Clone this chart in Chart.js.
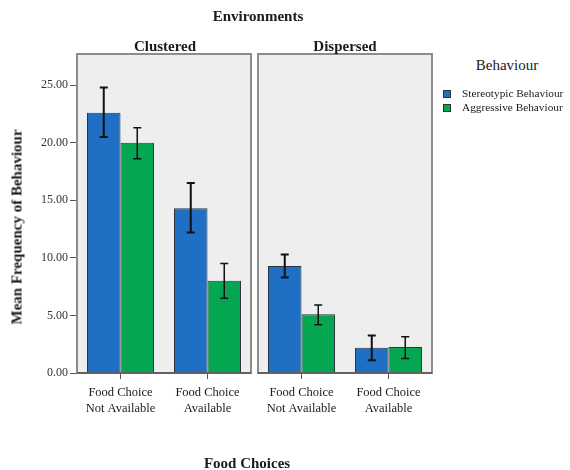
<!DOCTYPE html>
<html>
<head>
<meta charset="utf-8">
<script src="https://cdn.jsdelivr.net/npm/chart.js@4.4.1/dist/chart.umd.min.js"></script>
<style>
  html, body { margin:0; padding:0; background:#ffffff; }
  body { width:570px; height:470px; position:relative; overflow:hidden; font-family:"Liberation Serif", "DejaVu Serif", serif; color:#1a1a1a; }
  .lbl { position:absolute; white-space:nowrap; transform:translate(-50%,-50%); }
  .bold { font-weight:bold; }
  canvas { position:absolute; top:0; }
  .sw { position:absolute; width:8px; height:8px; border:1px solid #333; box-sizing:border-box; }
</style>
</head>
<body>
<canvas id="c1" width="260" height="470" style="left:0;width:260px;height:470px"></canvas>
<canvas id="c2" width="190" height="470" style="left:255px;width:190px;height:470px"></canvas>

<div class="lbl bold" style="left:258px;top:16px;font-size:15px">Environments</div>
<div class="lbl bold" id="t1" style="left:165px;top:46px;font-size:15px"></div>
<div class="lbl bold" id="t2" style="left:345px;top:46px;font-size:15px"></div>
<div class="lbl bold" style="left:247px;top:463px;font-size:15px">Food Choices</div>
<div class="lbl bold" style="left:17px;top:227px;font-size:15px;transform:translate(-50%,-50%) rotate(-90deg)">Mean Frequency of Behaviour</div>
<div class="lbl" style="left:507px;top:65px;font-size:15px">Behaviour</div>
<div class="sw" style="left:443px;top:90px;background:#1f6fc5"></div>
<div class="sw" style="left:443px;top:104px;background:#05a651"></div>
<div class="lbl" id="lg1" style="left:462px;top:93px;font-size:11.3px;transform:translate(0,-50%)"></div>
<div class="lbl" id="lg2" style="left:462px;top:107px;font-size:11.3px;transform:translate(0,-50%)"></div>

<script>
// ---- data ----
const environments = ["Clustered", "Dispersed"];
const foodChoices = [["Food Choice", "Not Available"], ["Food Choice", "Available"]];
const behaviours = ["Stereotypic Behaviour", "Aggressive Behaviour"];

const stereoClustered = [22.6, 14.3];
const stereoClusteredLow = [20.5, 12.2];
const stereoClusteredHigh = [24.8, 16.5];
const aggrClustered = [20.0, 8.0];
const aggrClusteredLow = [18.6, 6.5];
const aggrClusteredHigh = [21.3, 9.5];

const stereoDispersed = [9.3, 2.2];
const stereoDispersedLow = [8.3, 1.1];
const stereoDispersedHigh = [10.3, 3.25];
const aggrDispersed = [5.1, 2.25];
const aggrDispersedLow = [4.2, 1.25];
const aggrDispersedHigh = [5.9, 3.15];

const yMax = 27.7;
const yStep = 5;

// ---- text ----
document.getElementById('t1').textContent = environments[0];
document.getElementById('t2').textContent = environments[1];
document.getElementById('lg1').textContent = behaviours[0];
document.getElementById('lg2').textContent = behaviours[1];

const BLUE = '#1f6fc5', GREEN = '#05a651';
const FONT = "'Liberation Serif', 'DejaVu Serif', serif";

const panelPlugin = {
  id: 'panel',
  beforeDraw(chart) {
    const a = chart.chartArea, ctx = chart.ctx;
    ctx.save();
    ctx.fillStyle = '#eeeeee';
    ctx.fillRect(a.left, a.top, a.right - a.left, a.bottom - a.top);
    ctx.restore();
  },
  afterDatasetsDraw(chart) {
    const a = chart.chartArea, ctx = chart.ctx, y = chart.scales.y;
    ctx.save();
    chart.data.datasets.forEach((ds, di) => {
      const meta = chart.getDatasetMeta(di);
      meta.data.forEach((bar, i) => {
        const lo = y.getPixelForValue(ds.errLow[i]);
        const hi = y.getPixelForValue(ds.errHigh[i]);
        ctx.strokeStyle = '#111';
        ctx.lineWidth = di === 0 ? 2 : 1.5;
        ctx.beginPath();
        ctx.moveTo(bar.x, lo); ctx.lineTo(bar.x, hi);
        ctx.moveTo(bar.x - 4, lo); ctx.lineTo(bar.x + 4, lo);
        ctx.moveTo(bar.x - 4, hi); ctx.lineTo(bar.x + 4, hi);
        ctx.stroke();
      });
    });
    ctx.strokeStyle = '#8c8c8c';
    ctx.lineWidth = 2;
    ctx.strokeRect(a.left, a.top, a.right - a.left, a.bottom - a.top);
    ctx.strokeStyle = '#555';
    ctx.lineWidth = 1.5;
    ctx.beginPath();
    ctx.moveTo(a.left, a.bottom); ctx.lineTo(a.right, a.bottom);
    ctx.stroke();
    ctx.restore();
  }
};

function makeChart(id, sMean, sLo, sHi, aMean, aLo, aHi, showY, pad) {
  return new Chart(document.getElementById(id), {
    type: 'bar',
    data: {
      labels: foodChoices,
      datasets: [
        { label: behaviours[0], data: sMean, errLow: sLo, errHigh: sHi,
          backgroundColor: BLUE, borderColor: '#2b3540', borderWidth: 1,
          barPercentage: 1.0, categoryPercentage: 0.77 },
        { label: behaviours[1], data: aMean, errLow: aLo, errHigh: aHi,
          backgroundColor: GREEN, borderColor: '#2b3540', borderWidth: 1,
          barPercentage: 1.0, categoryPercentage: 0.77 }
      ]
    },
    options: {
      responsive: false,
      animation: false,
      events: [],
      layout: { padding: pad },
      plugins: { legend: { display: false }, title: { display: false }, tooltip: { enabled: false } },
      scales: {
        x: {
          grid: { display: true, offset: false, drawOnChartArea: false, drawTicks: true, tickLength: 6, color: '#555', lineWidth: 1 },
          border: { display: false },
          ticks: { color: '#1a1a1a', padding: 6, maxRotation: 0, autoSkip: false,
                   font: { family: FONT, size: 12.5, lineHeight: 1.28 } },
          afterFit(s) { s.height = 470 - 373 - pad.bottom; }
        },
        y: {
          display: showY,
          min: 0, max: yMax,
          grid: { display: true, drawOnChartArea: false, drawTicks: true, tickLength: 7, color: '#555' },
          border: { display: false },
          ticks: { stepSize: yStep, includeBounds: false, padding: 2, color: '#333',
                   font: { family: FONT, size: 12 },
                   callback: v => Number(v).toFixed(2) },
          afterFit(s) { s.width = showY ? 77 - pad.left : 0; }
        }
      }
    },
    plugins: [panelPlugin]
  });
}

makeChart('c1', stereoClustered, stereoClusteredLow, stereoClusteredHigh,
          aggrClustered, aggrClusteredLow, aggrClusteredHigh, true,
          { left: 0, right: 9, top: 54, bottom: 0 });
makeChart('c2', stereoDispersed, stereoDispersedLow, stereoDispersedHigh,
          aggrDispersed, aggrDispersedLow, aggrDispersedHigh, false,
          { left: 3, right: 13, top: 54, bottom: 0 });
</script>
</body>
</html>
